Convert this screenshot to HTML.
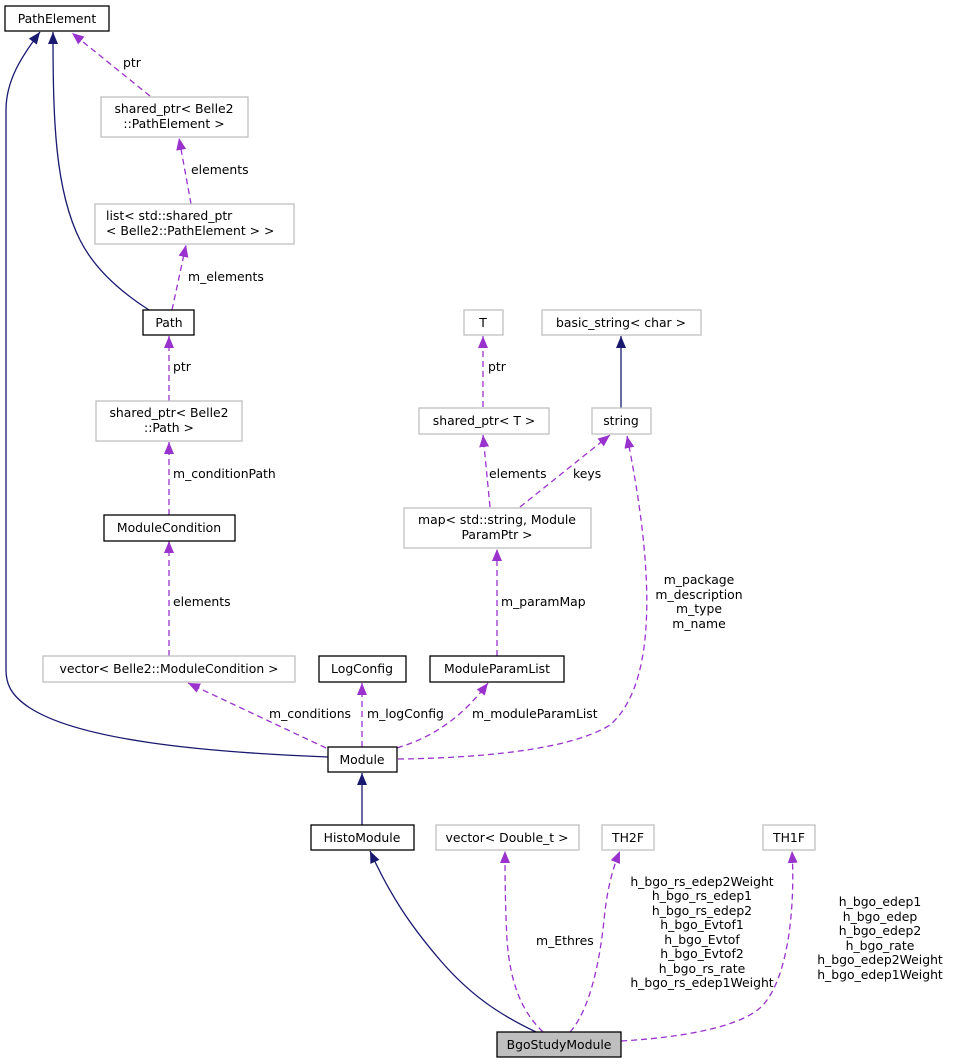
<!DOCTYPE html>
<html><head><meta charset="utf-8"><style>
body{margin:0;background:#fff}
svg{display:block}
text{font-family:"DejaVu Sans","Liberation Sans",sans-serif;font-size:12.4px;fill:#000}
.n{fill:#fff;stroke:#000;stroke-width:1.3}
.g{fill:#fff;stroke:#bfbfbf;stroke-width:1.3}
.s{fill:none;stroke:#191970;stroke-width:1.3}
.d{fill:none;stroke:#9a32cd;stroke-width:1.3;stroke-dasharray:6,4}
</style></head><body>
<svg width="953" height="1064" viewBox="0 0 953 1064" xmlns="http://www.w3.org/2000/svg">
<defs>
<marker id="an" viewBox="0 0 12 10" refX="12" refY="5" markerWidth="12" markerHeight="10" markerUnits="userSpaceOnUse" orient="auto"><path d="M0,0L12,5L0,10z" fill="#191970"/></marker>
<marker id="ap" viewBox="0 0 12 10" refX="12" refY="5" markerWidth="12" markerHeight="10" markerUnits="userSpaceOnUse" orient="auto"><path d="M0,0L12,5L0,10z" fill="#9a32cd"/></marker>
</defs>
<path class="s" marker-end="url(#an)" d="M328,757 C200,752 80,740 30,708 C10,695 6,683 6,670 L6,110 C6,80 22,56 40,32"/>
<path class="s" marker-end="url(#an)" d="M149,310 C110,285 90,260 80,240 C55,190 53,120 53,32"/>
<path class="d" marker-end="url(#ap)" d="M150,96 L72,33"/>
<text x="123" y="67">ptr</text>
<path class="d" marker-end="url(#ap)" d="M191,204 L179,138"/>
<text x="191" y="174">elements</text>
<path class="d" marker-end="url(#ap)" d="M172,310 L186,245"/>
<text x="188" y="281">m_elements</text>
<path class="d" marker-end="url(#ap)" d="M169,401 L169,336"/>
<text x="173" y="371">ptr</text>
<path class="d" marker-end="url(#ap)" d="M169,515 L169,442"/>
<text x="173" y="478">m_conditionPath</text>
<path class="d" marker-end="url(#ap)" d="M169,656 L169,541"/>
<text x="173" y="606">elements</text>
<path class="d" marker-end="url(#ap)" d="M326,748 L188,683"/>
<text x="269" y="718">m_conditions</text>
<path class="d" marker-end="url(#ap)" d="M362,747 L362,683"/>
<text x="367" y="718">m_logConfig</text>
<path class="d" marker-end="url(#ap)" d="M397,748 C430,738 460,720 488,683"/>
<text x="472" y="718">m_moduleParamList</text>
<path class="d" marker-end="url(#ap)" d="M497,656 L497,549"/>
<text x="501" y="606">m_paramMap</text>
<path class="d" marker-end="url(#ap)" d="M490,507 L483,435"/>
<text x="489" y="478">elements</text>
<path class="d" marker-end="url(#ap)" d="M520,507 L610,435"/>
<text x="573" y="478">keys</text>
<path class="d" marker-end="url(#ap)" d="M483,407 L483,336"/>
<text x="488" y="371">ptr</text>
<path class="s" marker-end="url(#an)" d="M621,408 L621,336"/>
<path class="d" marker-end="url(#ap)" d="M398,759 C480,758 570,750 610,725 C650,690 660,600 627,436"/>
<text x="699" y="584" text-anchor="middle">m_package</text>
<text x="699" y="599" text-anchor="middle">m_description</text>
<text x="699" y="613" text-anchor="middle">m_type</text>
<text x="699" y="628" text-anchor="middle">m_name</text>
<path class="s" marker-end="url(#an)" d="M362,825 L362,773"/>
<path class="s" marker-end="url(#an)" d="M536,1032 C500,1015 470,995 440,960 C410,925 390,895 370,851"/>
<path class="d" marker-end="url(#ap)" d="M543,1032 C520,1010 510,980 507,940 C505,900 505,870 505,851"/>
<text x="536" y="945">m_Ethres</text>
<path class="d" marker-end="url(#ap)" d="M570,1032 C590,1010 600,960 604,920 C607,890 612,870 620,851"/>
<g text-anchor="middle">
<text x="702" y="886">h_bgo_rs_edep2Weight</text>
<text x="702" y="900">h_bgo_rs_edep1</text>
<text x="702" y="915">h_bgo_rs_edep2</text>
<text x="702" y="929">h_bgo_Evtof1</text>
<text x="702" y="944">h_bgo_Evtof</text>
<text x="702" y="958">h_bgo_Evtof2</text>
<text x="702" y="973">h_bgo_rs_rate</text>
<text x="702" y="987">h_bgo_rs_edep1Weight</text>
<text x="880" y="906">h_bgo_edep1</text>
<text x="880" y="921">h_bgo_edep</text>
<text x="880" y="935">h_bgo_edep2</text>
<text x="880" y="950">h_bgo_rate</text>
<text x="880" y="964">h_bgo_edep2Weight</text>
<text x="880" y="979">h_bgo_edep1Weight</text>
</g>
<path class="d" marker-end="url(#ap)" d="M621,1041 C690,1037 745,1025 763,1005 C790,975 795,900 792,851"/>
<rect class="n" x="5" y="6" width="104" height="25"/><text x="57" y="23" text-anchor="middle">PathElement</text>
<rect class="g" x="101" y="97" width="147" height="40"/><text x="174" y="113" text-anchor="middle">shared_ptr&lt; Belle2</text><text x="174" y="128" text-anchor="middle">::PathElement &gt;</text>
<rect class="g" x="95" y="204" width="199" height="40"/><text x="106" y="220">list&lt; std::shared_ptr</text><text x="106" y="235">&lt; Belle2::PathElement &gt; &gt;</text>
<rect class="n" x="143" y="310" width="51" height="25"/><text x="169" y="327" text-anchor="middle">Path</text>
<rect class="g" x="96" y="401" width="146" height="40"/><text x="169" y="417" text-anchor="middle">shared_ptr&lt; Belle2</text><text x="169" y="432" text-anchor="middle">::Path &gt;</text>
<rect class="n" x="104" y="515" width="131" height="26"/><text x="169" y="532" text-anchor="middle">ModuleCondition</text>
<rect class="g" x="43" y="656" width="252" height="26"/><text x="169" y="673" text-anchor="middle">vector&lt; Belle2::ModuleCondition &gt;</text>
<rect class="n" x="319" y="656" width="87" height="26"/><text x="362" y="673" text-anchor="middle">LogConfig</text>
<rect class="n" x="430" y="656" width="134" height="26"/><text x="497" y="673" text-anchor="middle">ModuleParamList</text>
<rect class="g" x="464" y="310" width="39" height="25"/><text x="483" y="327" text-anchor="middle">T</text>
<rect class="g" x="542" y="310" width="159" height="25"/><text x="621" y="327" text-anchor="middle">basic_string&lt; char &gt;</text>
<rect class="g" x="419" y="408" width="130" height="26"/><text x="484" y="425" text-anchor="middle">shared_ptr&lt; T &gt;</text>
<rect class="g" x="592" y="408" width="59" height="26"/><text x="621" y="425" text-anchor="middle">string</text>
<rect class="g" x="404" y="508" width="187" height="40"/><text x="497" y="524" text-anchor="middle">map&lt; std::string, Module</text><text x="497" y="539" text-anchor="middle">ParamPtr &gt;</text>
<rect class="n" x="328" y="747" width="69" height="25"/><text x="362" y="764" text-anchor="middle">Module</text>
<rect class="n" x="311" y="825" width="103" height="25"/><text x="362" y="842" text-anchor="middle">HistoModule</text>
<rect class="g" x="436" y="825" width="143" height="25"/><text x="507" y="842" text-anchor="middle">vector&lt; Double_t &gt;</text>
<rect class="g" x="602" y="825" width="52" height="25"/><text x="628" y="842" text-anchor="middle">TH2F</text>
<rect class="g" x="763" y="825" width="52" height="25"/><text x="789" y="842" text-anchor="middle">TH1F</text>
<rect x="497" y="1032" width="124" height="25" fill="#bfbfbf" stroke="#000" stroke-width="1.3"/><text x="559" y="1049" text-anchor="middle">BgoStudyModule</text>
</svg>
</body></html>
